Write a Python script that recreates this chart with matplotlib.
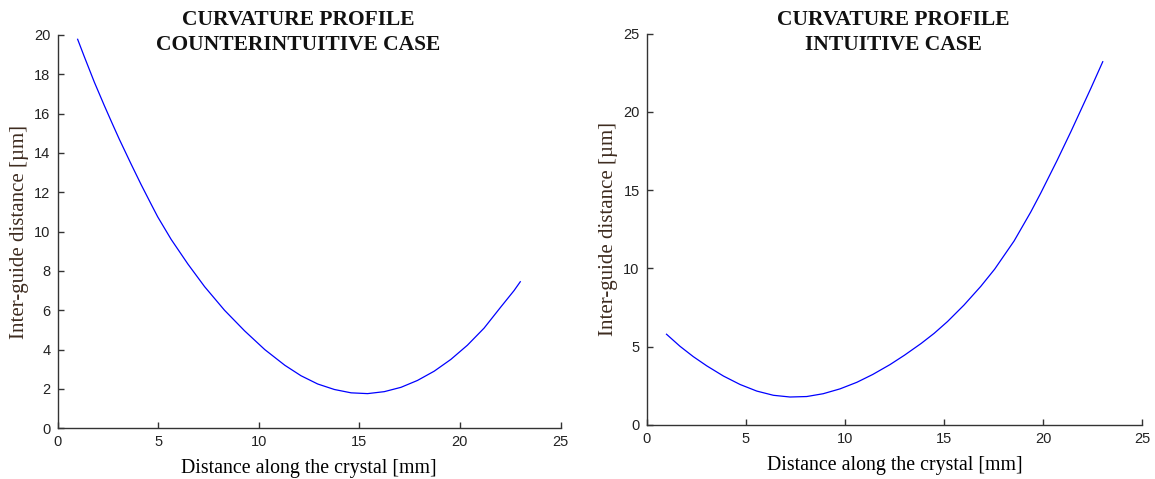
import matplotlib
matplotlib.use("Agg")
import matplotlib.pyplot as plt

# Counterintuitive case (left panel)
x_counter = [1.0, 1.33, 1.83, 2.33, 2.74, 3.07, 3.65, 4.15, 4.65, 4.98, 5.65, 6.48,
             7.31, 8.3, 9.3, 10.3, 11.3, 12.1, 12.93, 13.76, 14.59, 15.41, 16.24,
             17.07, 17.89, 18.72, 19.55, 20.37, 21.2, 22.02, 22.69, 23.0]
y_counter = [19.78, 18.9, 17.6, 16.4, 15.45, 14.7, 13.45, 12.4, 11.4, 10.75, 9.6, 8.35,
             7.2, 6.0, 4.95, 4.0, 3.2, 2.67, 2.25, 1.97, 1.8, 1.76, 1.86,
             2.08, 2.43, 2.9, 3.5, 4.22, 5.09, 6.15, 7.0, 7.45]

# Intuitive case (right panel)
x_intuit = [1.0, 1.68, 2.35, 3.03, 3.87, 4.71, 5.55, 6.39, 7.23, 8.07, 8.9, 9.75,
            10.6, 11.4, 12.27, 13.0, 13.84, 14.5, 15.17, 16.0, 16.85, 17.55, 18.53,
            19.37, 19.87, 20.7, 21.4, 21.8, 22.4, 23.0]
y_intuit = [5.79, 5.02, 4.36, 3.77, 3.12, 2.58, 2.16, 1.89, 1.78, 1.81, 1.99, 2.3,
            2.72, 3.22, 3.85, 4.45, 5.2, 5.85, 6.6, 7.65, 8.85, 9.95, 11.75,
            13.6, 14.8, 16.9, 18.75, 19.85, 21.5, 23.2]

titulos = ["CURVATURE PROFILE\nCOUNTERINTUITIVE CASE", "CURVATURE PROFILE\nINTUITIVE CASE"]
xlabel = "Distance along the crystal [mm]"
ylabel = "Inter-guide distance [\u00b5m]"
yticks_left = [0, 2, 4, 6, 8, 10, 12, 14, 16, 18, 20]
yticks_right = [0, 5, 10, 15, 20, 25]
xticks = [0, 5, 10, 15, 20, 25]

fig = plt.figure(figsize=(11.55, 4.79), dpi=100)
ax1 = fig.add_axes([0.0498, 0.106, 0.4355, 0.821])
ax2 = fig.add_axes([0.5599, 0.113, 0.4292, 0.817])

paneles = [
    (ax1, x_counter, y_counter, yticks_left, 20, titulos[0], 298),
    (ax2, x_intuit, y_intuit, yticks_right, 25, titulos[1], 893),
]

for ax, xs, ys, yt, ymax, titulo, xt in paneles:
    ax.plot(xs, ys, color="#0000ff", lw=0.9)
    ax.set_xlim(0, 25)
    ax.set_ylim(0, ymax)
    ax.set_xticks(xticks)
    ax.set_yticks(yt)
    ax.spines["top"].set_visible(False)
    ax.spines["right"].set_visible(False)
    for s in ("left", "bottom"):
        ax.spines[s].set_color("#333333")
        ax.spines[s].set_linewidth(1.0)
    ax.tick_params(direction="in", length=4, width=1, color="#333333",
                   labelsize=10.5, labelcolor="#222222", pad=5)
    for lab in ax.get_xticklabels() + ax.get_yticklabels():
        lab.set_family("Liberation Sans")
    ax.set_xlabel(xlabel, family="Liberation Serif", fontsize=14.3, labelpad=7)
    ax.set_ylabel(ylabel, family="Liberation Serif", fontsize=15, labelpad=4,
                  color="#3d2b1f")
    # titulo en coordenadas de figura (centrado como en el original)
    fig.text(xt / 1155, 1 - 10 / 479, titulo, family="Liberation Serif",
             fontweight="bold", fontsize=15.5, linespacing=1.32,
             ha="center", va="top", color="#111111")

fig.savefig("out.png", dpi=100)
